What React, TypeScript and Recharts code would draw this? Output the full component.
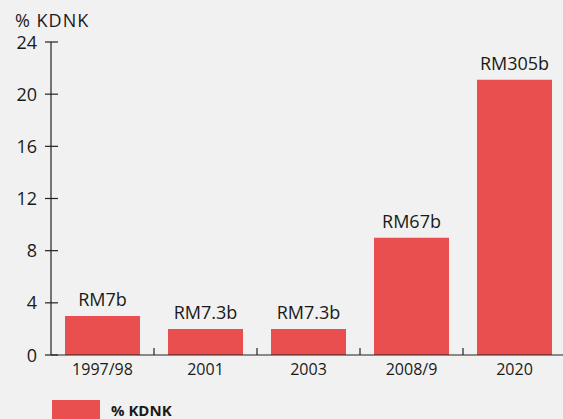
import React from 'react';
import { BarChart, Bar, XAxis, YAxis, LabelList, Legend, Customized } from 'recharts';

const categories = ['1997/98', '2001', '2003', '2008/9', '2020'];
const kdnkValues = [3, 2, 2, 9, 21.1];
const amountLabels = ['RM7b', 'RM7.3b', 'RM7.3b', 'RM67b', 'RM305b'];
const yTicks = [0, 4, 8, 12, 16, 20, 24];
const seriesName = '% KDNK';
const axisTitle = '% KDNK';

const data = categories.map((c, i) => ({ category: c, kdnk: kdnkValues[i], label: amountLabels[i] }));

const BAR_COLOR = '#E94F4F';
const TEXT = '#1a1a1a';
const AXIS = '#222222';
const FONT = '"Open Sans", "Noto Sans", sans-serif';

const CHART_W = 570;
const CHART_H = 419;
const MARGIN = { top: 42, right: 4, left: 0, bottom: 34 };
const Y_W = 51;
const HALF_BAND = (CHART_W - MARGIN.left - MARGIN.right - Y_W) / categories.length / 2;

const YTick = (props: any) => {
  const { x, y, payload } = props;
  return (
    <g>
      <line x1={x - 6} x2={x + 7} y1={y} y2={y} stroke={AXIS} strokeWidth={1.2} />
      <text x={x - 14} y={y} dy={6.5} textAnchor="end" fontSize={18} fill={TEXT} fontFamily={FONT}>
        {payload.value}
      </text>
    </g>
  );
};

const XTick = (props: any) => {
  const { x, y, payload, index } = props;
  return (
    <g>
      {index < categories.length - 1 && (
        <line x1={x + HALF_BAND} x2={x + HALF_BAND} y1={y} y2={y - 7} stroke={AXIS} strokeWidth={1.2} />
      )}
      <text x={x} y={y + 20} textAnchor="middle" fontSize={16} fill={TEXT} fontFamily={FONT}>
        {payload.value}
      </text>
    </g>
  );
};

const Title = () => (
  <text x={15} y={27} fontSize={18} letterSpacing={1} fill={TEXT} fontFamily={FONT}>
    {axisTitle}
  </text>
);

const LegendContent = () => (
  <div style={{ display: 'flex', alignItems: 'center', fontFamily: FONT }}>
    <div style={{ width: 48, height: 19, background: BAR_COLOR }} />
    <span style={{ marginLeft: 11, fontSize: 15, fontWeight: 700, color: TEXT, lineHeight: '19px', position: 'relative', top: 1 }}>
      {seriesName}
    </span>
  </div>
);

export default function App() {
  return (
    <div style={{ position: 'absolute', left: 0, top: 0, width: 563, height: 419, overflow: 'hidden', background: '#f1f1f1' }}>
      <BarChart width={CHART_W} height={CHART_H} data={data} margin={MARGIN}>
        <YAxis
          type="number"
          domain={[0, 24]}
          ticks={yTicks}
          width={Y_W}
          tickLine={false}
          tickSize={0}
          tickMargin={0}
          axisLine={{ stroke: AXIS, strokeWidth: 1.2 }}
          tick={<YTick />}
          interval={0}
        />
        <XAxis
          dataKey="category"
          height={30}
          tickLine={false}
          tickSize={0}
          tickMargin={0}
          axisLine={{ stroke: AXIS, strokeWidth: 1.2 }}
          tick={<XTick />}
          interval={0}
        />
        <Bar dataKey="kdnk" name={seriesName} fill={BAR_COLOR} barSize={75} isAnimationActive={false}>
          <LabelList dataKey="label" position="top" offset={10} fontSize={18} fill={TEXT} fontFamily={FONT} />
        </Bar>
        <Legend
          layout="horizontal"
          verticalAlign="middle"
          align="center"
          content={<LegendContent />}
          wrapperStyle={{ position: 'absolute', left: 52, top: 400, width: 200, height: 19 }}
        />
        <Customized component={Title} />
      </BarChart>
    </div>
  );
}
